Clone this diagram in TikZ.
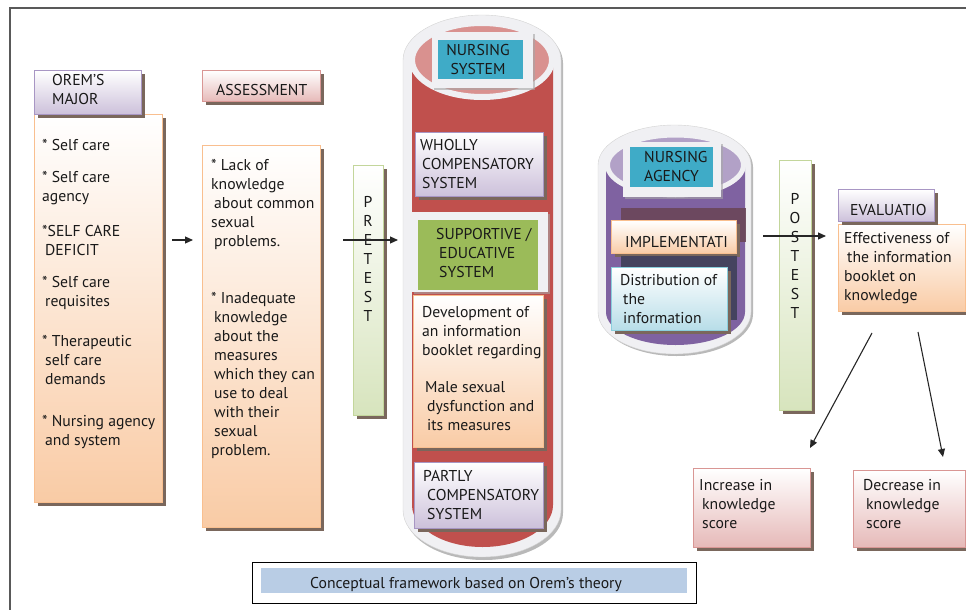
\documentclass[tikz,border=0pt]{standalone}
\usepackage{fontspec}
\setmainfont{PT Sans}
\usetikzlibrary{shadows,arrows.meta}
\definecolor{orB}{HTML}{F9BF8F}
\definecolor{orF}{HTML}{F9CBA5}
\definecolor{pkB}{HTML}{D99694}
\definecolor{pkF}{HTML}{E6B9B8}
\definecolor{puB}{HTML}{A896C4}
\definecolor{puF}{HTML}{CCC0DA}
\definecolor{grB}{HTML}{C3D69B}
\definecolor{grF}{HTML}{D7E4BD}
\definecolor{blB}{HTML}{8ACFDD}
\definecolor{blF}{HTML}{B7DDE8}
\definecolor{tealC}{HTML}{3FABC7}
\definecolor{redC}{HTML}{C0504D}
\definecolor{pinkE}{HTML}{D9918F}
\definecolor{grnC}{HTML}{9BBB59}
\definecolor{purC}{HTML}{7F62A1}
\definecolor{lavE}{HTML}{B2A1C7}
\definecolor{cylW}{HTML}{F0F0F3}
\definecolor{shd}{HTML}{7A675C}
\definecolor{capB}{HTML}{B9CDE5}
\definecolor{darkM}{HTML}{6A4658}
\definecolor{darkN}{HTML}{45435F}
\newcommand\fs{\fontsize{15.7}{19}\selectfont}
\tikzset{
  bx/.style={line width=1.3pt, inner sep=0pt, anchor=north west,
    drop shadow={shadow xshift=3pt, shadow yshift=-3pt, fill=shd, opacity=1}},
  orbox/.style={bx, draw=orB, top color=white, bottom color=orF},
  pkbox/.style={bx, draw=pkB, top color=white, bottom color=pkF},
  pubox/.style={bx, draw=puB, top color=white, bottom color=puF},
  grbar/.style={bx, draw=grB, top color=white, bottom color=grF},
  blbox/.style={bx, draw=blB, top color=white, bottom color=blF},
  frm/.style={inner sep=0pt, anchor=north west, fill=cylW,
    drop shadow={shadow xshift=2pt, shadow yshift=-2pt, fill=gray!70, opacity=0.6}},
  flat/.style={inner sep=0pt, anchor=north west},
  tx/.style={anchor=north west, inner sep=0pt, align=left, font=\fs, yshift=5.8pt,
    text=black!90, execute at begin node=\strut},
  ctx/.style={anchor=north, inner sep=0pt, align=center, font=\fs, yshift=5.8pt,
    text=black!90, execute at begin node=\strut},
  arr/.style={-{Triangle[length=8pt,width=7pt]}, line width=1.1pt, black!85}
}
\begin{document}
\begin{tikzpicture}[x=1pt,y=-1pt]
\useasboundingbox (0,0) rectangle (966,610);
% frame
\draw[line width=1.4pt, black!65] (10,610) -- (10,8) -- (966,8);

% left column
\node[orbox, minimum width=128pt, minimum height=388pt] (oremB) at (34,114) {};
\node[pubox, minimum width=107pt, minimum height=44pt] (oremH) at (34,70) {};
\node[tx] (tOremH) at (52,80) {OREM’S\\MAJOR};
\node[tx] (tOremB) at (42,145) {{*} Self care\\[13pt]{*} Self care\\agency\\[16pt]{*}SELF CARE\\\hspace*{3pt}DEFICIT\\[13pt]{*} Self care\\\hspace*{3pt}requisites\\[21pt]{*} Therapeutic\\\hspace*{3pt}self care\\\hspace*{3pt}demands\\[23pt]{*} Nursing agency\\\hspace*{3pt}and system};

\node[orbox, minimum width=118pt, minimum height=382pt] (assB) at (202,145) {};
\node[pkbox, minimum width=118pt, minimum height=31pt] (assH) at (202,70) {};
\node[tx] (tAssH) at (216,88) {ASSESSMENT};
\node[tx] (tAssB) at (211,165) {{*} Lack of\\knowledge\\\hspace*{3pt}about common\\sexual\\\hspace*{3pt}problems.\\[38pt]{*} Inadequate\\\hspace*{3pt}knowledge\\\hspace*{3pt}about the\\\hspace*{3pt}measures\\\hspace*{3pt}which they can\\\hspace*{3pt}use to deal\\\hspace*{3pt}with their\\\hspace*{3pt}sexual\\problem.};

% pretest
\node[grbar, minimum width=30pt, minimum height=250pt] (pre) at (353,165) {};
\node[ctx] (tPre) at (368,202) {P\\R\\E\\T\\E\\S\\T};

% nursing system cylinder
\fill[gray!55] (405,63) arc[start angle=180,end angle=0,x radius=79pt,y radius=45pt]
  -- (563,513) arc[start angle=0,end angle=-180,x radius=79pt,y radius=47pt] -- cycle;
\filldraw[fill=cylW, draw=gray!35] (403,60) arc[start angle=180,end angle=0,x radius=79pt,y radius=45pt]
  -- (561,510) arc[start angle=0,end angle=-180,x radius=79pt,y radius=47pt] -- cycle;
\fill[redC] (412,60) -- (412,505) arc[start angle=180,end angle=360,x radius=70.5pt,y radius=42pt] -- (553,60) -- cycle;
\filldraw[fill=pinkE, draw=cylW, line width=6pt] (482,60) ellipse[x radius=70pt, y radius=37pt];

\node[frm, minimum width=101pt, minimum height=56pt] (nsFrame) at (432,32) {};
\node[flat, fill=tealC, minimum width=85pt, minimum height=39pt] (nsTeal) at (438,40) {};
\node[ctx] (tNS) at (478,50) {NURSING\\SYSTEM};

\node[pubox, minimum width=128pt, minimum height=64pt] (wholly) at (415,132) {};
\node[tx] (tWh) at (420,145) {WHOLLY\\\hspace*{2pt}COMPENSATORY\\\hspace*{2pt}SYSTEM};

\node[frm, minimum width=136pt, minimum height=80pt] (supFrame) at (412,212) {};
\node[flat, fill=grnC, minimum width=120pt, minimum height=70pt] (supGreen) at (418,220) {};
\node[tx] (tSup) at (436,234) {SUPPORTIVE /\\\hspace*{3pt}EDUCATIVE\\\hspace*{3pt}SYSTEM};

\node[orbox, minimum width=130pt, minimum height=152pt] (devel) at (413,295) {};
\node[tx] (tDev) at (422,312) {Development of\\an information\\booklet regarding\\[18pt]\hspace*{3pt}Male sexual\\\hspace*{5pt}dysfunction and\\\hspace*{5pt}its measures};

\node[pubox, minimum width=129pt, minimum height=66pt] (partly) at (414,462) {};
\node[tx] (tPa) at (423,476) {PARTLY\\\hspace*{4pt}COMPENSATORY\\\hspace*{4pt}SYSTEM};

% nursing agency cylinder
\fill[gray!55] (600,167) arc[start angle=180,end angle=0,x radius=76.5pt,y radius=40pt]
  -- (753,314) arc[start angle=0,end angle=-180,x radius=76.5pt,y radius=42pt] -- cycle;
\filldraw[fill=cylW, draw=gray!35] (598,165) arc[start angle=180,end angle=0,x radius=76.5pt,y radius=40pt]
  -- (751,312) arc[start angle=0,end angle=-180,x radius=76.5pt,y radius=42pt] -- cycle;
\fill[purC] (606,165) -- (606,312) arc[start angle=180,end angle=360,x radius=69.5pt,y radius=33pt] -- (745,165) -- cycle;
\filldraw[fill=lavE, draw=cylW, line width=5pt] (675.5,165) ellipse[x radius=68pt, y radius=30pt];

\node[frm, minimum width=98pt, minimum height=55pt] (naFrame) at (623,142) {};
\node[flat, fill=tealC, minimum width=83pt, minimum height=40pt] (naTeal) at (630,147) {};
\node[tx] (tNA) at (644,157) {NURSING\\AGENCY};

\node[flat, fill=darkM, opacity=0.9, minimum width=125pt, minimum height=34pt] (darkA) at (621,208) {};
\node[orbox, minimum width=125pt, minimum height=33pt] (impl) at (611,220) {};
\node[tx] (tImp) at (625,240) {IMPLEMENTATI};

\node[flat, fill=darkN, minimum width=116pt, minimum height=64pt] (darkB) at (621,256) {};
\node[blbox, minimum width=116pt, minimum height=63pt] (distr) at (611,267) {};
\node[tx] (tDis) at (620,280) {Distribution of\\\hspace*{3pt}the\\\hspace*{3pt}information};

% posttest
\node[grbar, minimum width=32pt, minimum height=250pt] (post) at (779,160) {};
\node[ctx] (tPost) at (795,199) {P\\O\\S\\T\\E\\S\\T};

% evaluation
\node[orbox, minimum width=127pt, minimum height=87pt] (effect) at (838,224) {};
\node[pubox, minimum width=96pt, minimum height=32pt] (evalH) at (838,189) {};
\node[tx] (tEval) at (850,208) {EVALUATIO};
\node[tx] (tEff) at (844,238) {Effectiveness of\\\hspace*{3pt}the information\\booklet on\\knowledge};

\node[pkbox, minimum width=117pt, minimum height=79pt] (incr) at (693,468) {};
\node[tx] (tInc) at (699,485) {Increase in\\\hspace*{3pt}knowledge\\\hspace*{3pt}score};
\node[pkbox, minimum width=112pt, minimum height=77pt] (decr) at (853,470) {};
\node[tx] (tDec) at (863,485) {Decrease in\\\hspace*{3pt}knowledge\\\hspace*{3pt}score};

% arrows
\coordinate (a1s) at (172,240); \coordinate (a1e) at (193,240);
\coordinate (a2s) at (343,240); \coordinate (a2e) at (398,240);
\coordinate (a3s) at (763,236); \coordinate (a3e) at (826,236);
\coordinate (a4s) at (872,333); \coordinate (a4e) at (810,448);
\coordinate (a5s) at (918,332); \coordinate (a5e) at (943,457);
\draw[arr] (a1s) -- (a1e);
\draw[arr] (a2s) -- (a2e);
\draw[arr] (a3s) -- (a3e);
\draw[arr] (a4s) -- (a4e);
\draw[arr] (a5s) -- (a5e);

% caption
\node[flat, draw=black, line width=1.4pt, minimum width=444pt, minimum height=41pt] (capOut) at (252,562) {};
\node[flat, fill=capB, minimum width=426pt, minimum height=25pt] (capIn) at (261,568) {};
\node[ctx] (tCap) at (466,581) {Conceptual framework based on Orem’s theory};
\end{tikzpicture}
\end{document}
